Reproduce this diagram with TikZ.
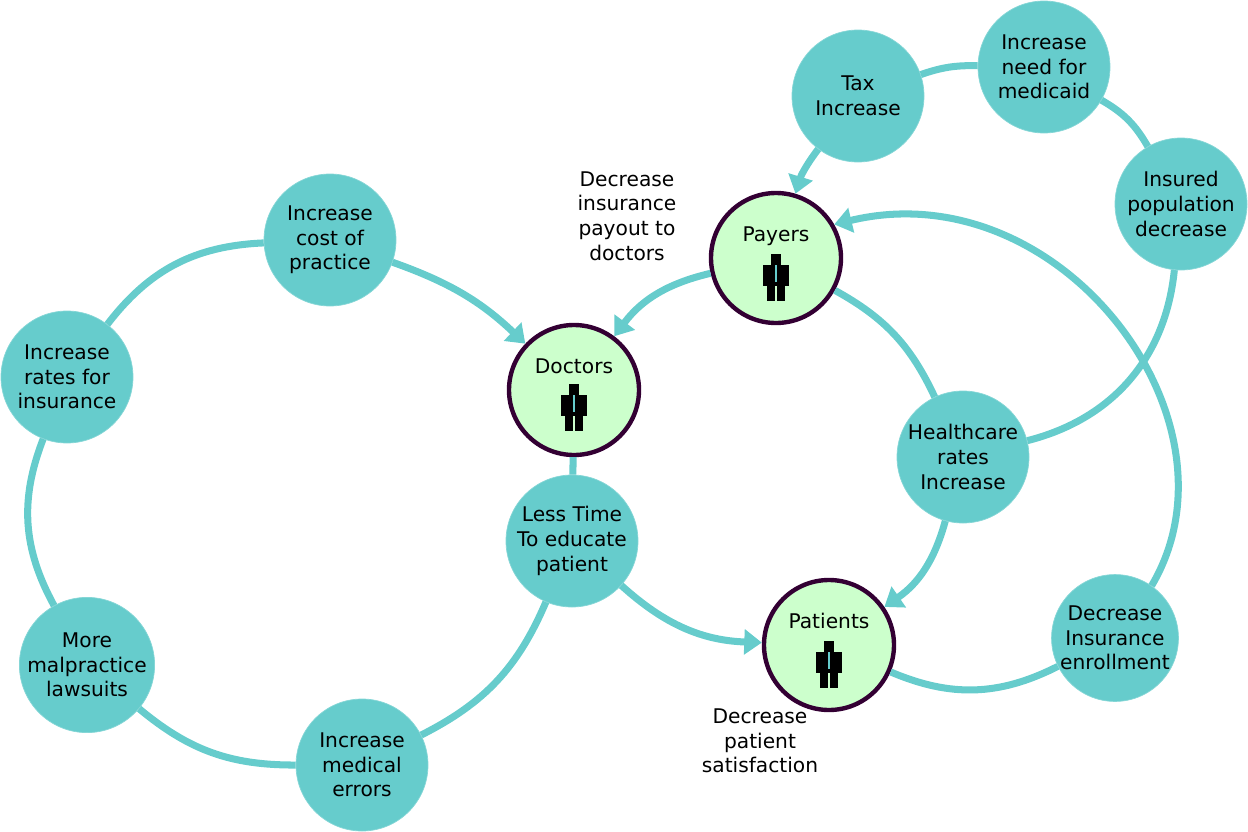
\documentclass[tikz,border=0pt]{standalone}
\usepackage{fontspec}
\setmainfont{DejaVu Sans}
\usetikzlibrary{arrows.meta}
\definecolor{teal}{HTML}{66CCCC}
\definecolor{mint}{HTML}{CCFFCC}
\definecolor{rim}{HTML}{330033}
\tikzset{
  bub/.style={circle, fill=teal, draw=teal!80, minimum size=132*0.02cm, inner sep=0pt, align=center, font=\fontsize{11.5}{14}\selectfont},
  who/.style={circle, fill=mint, draw=rim, line width=2.5pt, minimum size=130*0.02cm, inner sep=0pt, align=center, font=\fontsize{11.5}{14}\selectfont, text depth=48*0.02cm},
  link/.style={draw=teal, line width=4pt},
  flow/.style={link, -{Triangle[width=14pt,length=10pt]}},
  note/.style={align=center, font=\fontsize{11.5}{14}\selectfont},
  pics/person/.style={code={
    \fill (-5,0) rectangle (5,11);
    \fill (-13,11) rectangle (13,32);
    \fill (-9,32) rectangle (-1,47);
    \fill (1,32) rectangle (9,47);
    \draw[teal, line width=1.2pt] (0,11) -- (0,28);
  }}
}
\begin{document}
\begin{tikzpicture}[x=0.02cm, y=-0.02cm]
	\useasboundingbox (0,0) rectangle (1248,832);
	% left loop
	\node[bub] (cost) at (330,240) {Increase\\cost of\\practice};
	\node[bub] (rates) at (67,377) {Increase\\rates for\\insurance};
	\node[bub] (malp) at (87,665) {More\\malpractice\\lawsuits};
	\node[bub] (errors) at (362,765) {Increase\\medical\\errors};
	\node[bub] (less) at (572,541) {Less Time\\To educate\\patient};
	
	% actors
	\node[who] (doctors) at (574,390) {Doctors};
	\node[who] (payers) at (776,258) {Payers};
	\node[who] (patients) at (829,645) {Patients};
	\pic at (574,384) {person};
	\pic at (776,254) {person};
	\pic at (829,641) {person};
	
	% right loops
	\node[bub] (tax) at (858,96) {Tax\\Increase};
	\node[bub] (medicaid) at (1044,67) {Increase\\need for\\medicaid};
	\node[bub] (insured) at (1181,204) {Insured\\population\\decrease};
	\node[bub] (health) at (963,457) {Healthcare\\rates\\Increase};
	\node[bub, minimum size=120*0.02cm] (enroll) at (1115,638) {Decrease\\Insurance\\enrollment};
	
	\draw[link] (cost) to[bend right=25] (rates);
	\draw[link] (rates) to[bend right=25] (malp);
	\draw[link] (malp) to[bend right=20] (errors);
	\draw[link] (errors) to[bend right=20] (less);
	\draw[link] (less) -- (doctors);
	\draw[flow] (cost) to[bend left=12] (doctors);
	\draw[flow] (less) to[bend right=20] (patients);
	\draw[flow] (payers) to[bend right=20] (doctors);
	\draw[flow] (tax) to[bend right=10] (payers);
	\draw[link] (tax) to[bend left=10] (medicaid);
	\draw[link] (medicaid) to[bend left=15] (insured);
	\draw[link] (insured) to[bend left=35] (health);
	\draw[link] (payers) to[bend left=18] (health);
	\draw[flow] (health) to[bend left=20] (patients);
	\draw[link] (patients) to[bend right=25] (enroll);
	\draw[flow] (enroll.55) .. controls (1250,420) and (1060,170) .. (payers.30);
	
	\node[note] (payout) at (627,216) {Decrease\\insurance\\payout to\\doctors};
	\node[note] (satis) at (760,741) {Decrease\\patient\\satisfaction};
\end{tikzpicture}
\end{document}
